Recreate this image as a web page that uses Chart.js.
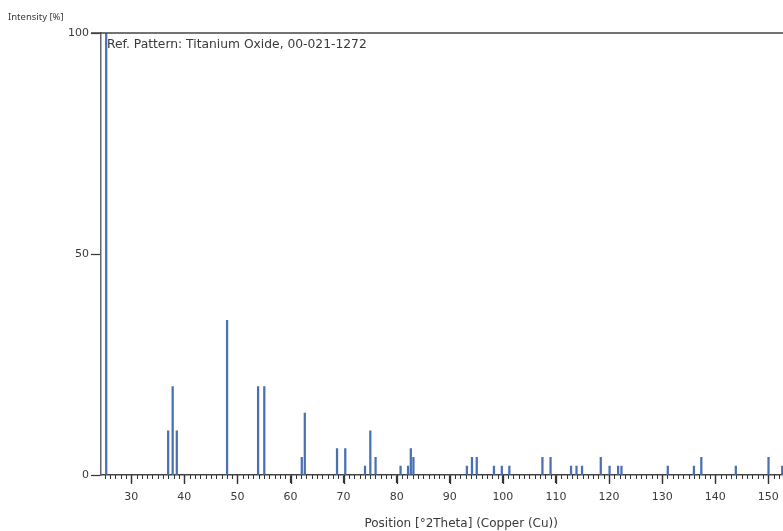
<!DOCTYPE html>
<html>
<head>
<meta charset="utf-8">
<script src="https://cdn.jsdelivr.net/npm/chart.js@4.4.1/dist/chart.umd.min.js"></script>
<style>
  html, body { margin: 0; padding: 0; background: #fff; overflow: hidden; }
  #wrap { width: 860px; height: 531px; }
</style>
</head>
<body>
<div id="wrap"><canvas id="c" width="860" height="531"></canvas></div>
<script>
// Anatase TiO2 reference pattern 00-021-1272: peak positions (°2θ) and relative intensities (%)
const positions = [25.28, 36.95, 37.80, 38.58, 48.05, 53.89, 55.06, 62.12, 62.69, 68.76, 70.31,
  74.03, 75.03, 76.02, 80.73, 82.14, 82.66, 83.15, 93.22, 94.18, 95.08, 98.32, 99.80, 101.22,
  107.45, 108.98, 112.84, 113.87, 114.91, 118.44, 120.10, 121.71, 122.34, 131.06, 135.99,
  137.38, 143.88, 150.04, 152.62];
const intensities = [100, 10, 20, 10, 35, 20, 20, 4, 14, 6, 6,
  2, 10, 4, 2, 2, 6, 4, 2, 4, 4, 2, 2, 2,
  4, 4, 2, 2, 2, 4, 2, 2, 2, 2, 2,
  4, 2, 4, 2];
const xTicks = [30, 40, 50, 60, 70, 80, 90, 100, 110, 120, 130, 140, 150, 160];
const yTicks = [0, 50, 100];

const patternName = 'Ref. Pattern: Titanium Oxide, 00-021-1272';
const yTitle = 'Intensity [%]';
const xTitle = 'Position [°2Theta] (Copper (Cu))';

const FONT = '"DejaVu Sans", "Noto Sans", sans-serif';
const FONT_SMALL = '"Noto Sans", "DejaVu Sans", sans-serif';
const TEXT = '#3a3a3a';
const AXIS = '#444';

// extra frame, minor/major ticks and free-standing labels
const decor = {
  id: 'decor',
  afterDraw(chart) {
    const { ctx, chartArea: a, scales: { x, y } } = chart;
    ctx.save();
    // top frame line along 100 %
    ctx.strokeStyle = AXIS;
    ctx.lineWidth = 1.5;
    ctx.beginPath();
    ctx.moveTo(a.left - 10, y.getPixelForValue(100));
    ctx.lineTo(a.right, y.getPixelForValue(100));
    ctx.stroke();
    // ticks every 1°, longer every 10°
    ctx.strokeStyle = '#333';
    const y0 = y.getPixelForValue(0);
    for (let v = Math.ceil(x.min); v <= x.max; v++) {
      const major = v % 10 === 0;
      ctx.lineWidth = major ? 1.3 : 1;
      const px = Math.round(x.getPixelForValue(v)) + 0.5;
      ctx.beginPath();
      ctx.moveTo(px, y0);
      ctx.lineTo(px, y0 + (major ? 9 : 4));
      ctx.stroke();
    }
    // labels
    ctx.fillStyle = TEXT;
    ctx.textBaseline = 'middle';
    ctx.textAlign = 'left';
    ctx.font = '9.5px ' + FONT_SMALL;
    ctx.fillText(yTitle, 8, 17);
    ctx.font = '12.3px ' + FONT;
    ctx.fillText(patternName, a.left + 6, y.getPixelForValue(100) + 12);
    ctx.restore();
  }
};

new Chart(document.getElementById('c'), {
  type: 'bar',
  data: {
    datasets: [{
      data: positions.map((p, i) => ({ x: p, y: intensities[i] })),
      backgroundColor: '#4a70b4',
      borderWidth: 0,
      barThickness: 1.6
    }]
  },
  options: {
    responsive: false,
    animation: false,
    layout: { padding: { top: 33, right: 38.6, left: 0, bottom: 0 } },
    plugins: { legend: { display: false }, tooltip: { enabled: false } },
    scales: {
      x: {
        type: 'linear',
        min: 24.3,
        max: 160,
        offset: false,
        afterBuildTicks(scale) { scale.ticks = xTicks.map(v => ({ value: v })); },
        afterFit(scale) { scale.height = 56; },
        border: { color: AXIS, width: 1.5 },
        grid: { offset: false, drawOnChartArea: false, tickLength: 8, color: '#333', tickWidth: 1.2 },
        ticks: { color: TEXT, font: { family: FONT, size: 11 }, padding: 8, maxRotation: 0 },
        title: { display: true, text: xTitle, color: TEXT, font: { family: FONT, size: 12 }, padding: { top: 2, bottom: 0 } }
      },
      y: {
        min: 0,
        max: 100,
        afterBuildTicks(scale) { scale.ticks = yTicks.map(v => ({ value: v })); },
        afterFit(scale) { scale.width = 101; },
        border: { color: '#666', width: 1.5 },
        grid: { offset: false, drawOnChartArea: false, tickLength: 10, color: '#333', tickWidth: 1.2 },
        ticks: { color: TEXT, font: { family: FONT, size: 11 }, padding: 2 }
      }
    }
  },
  plugins: [decor]
});
</script>
</body>
</html>
